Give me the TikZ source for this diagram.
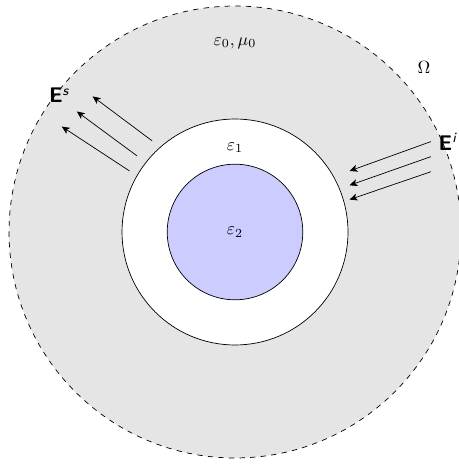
\documentclass[tikz,border=0pt]{standalone}
\usetikzlibrary{arrows.meta}
\newcommand{\fieldlabel}[1]{\textsf{\textbf{E}}\textsuperscript{\textsf{\textit{#1}}}}
\begin{document}
\begin{tikzpicture}[scale=1.5, field/.style={-{Stealth[length=4.5pt,width=4pt,inset=1.2pt]}}]
\useasboundingbox (-3.12,-3.08) rectangle (2.97,3.08);

% Define coordinates
\coordinate (O) at (0,0); % Centre of the scatterer
\coordinate (I1) at (2.6,1.2); % Tails of the incident field
\coordinate (I2) at (2.6,1.0);
\coordinate (I3) at (2.6,0.8);
\coordinate (J1) at (1.52,0.81); % Heads of the incident field
\coordinate (J2) at (1.52,0.62);
\coordinate (J3) at (1.52,0.43);
\coordinate (S1) at (-1.1,1.21); % Tails of the scattered field
\coordinate (S2) at (-1.3,1.01);
\coordinate (S3) at (-1.4,0.81);
\coordinate (T1) at (-1.89,1.8); % Heads of the scattered field
\coordinate (T2) at (-2.1,1.6);
\coordinate (T3) at (-2.3,1.4);

% Draw outer domain
\filldraw[fill=gray!20, dashed] (O) circle (3);

% Draw coating and core
\filldraw[fill=white] (O) circle (1.5);
\filldraw[fill=blue!20] (O) circle (0.9);

% Label media
\node (eps0) at (0,2.51) {$\varepsilon_0, \mu_0$};
\node (omega) at (2.51,2.18) {$\Omega$};
\node (eps1) at (0,1.12) {$\varepsilon_1$};
\node (eps2) at (0,0) {$\varepsilon_2$};

% Draw incident and scattered fields
\draw[field] (I1) -- (J1);
\draw[field] (I2) -- (J2);
\draw[field] (I3) -- (J3);
\draw[field] (S1) -- (T1);
\draw[field] (S2) -- (T2);
\draw[field] (S3) -- (T3);
\node[font=\large] (Ei) at (2.83,1.2) {\fieldlabel{i}};
\node[font=\large] (Es) at (-2.33,1.81) {\fieldlabel{s}};

\end{tikzpicture}
\end{document}
